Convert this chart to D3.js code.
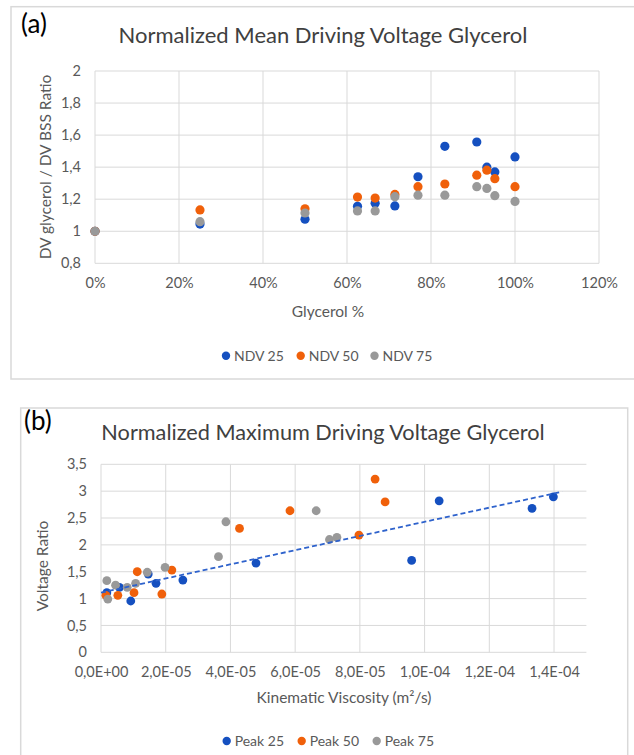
<!DOCTYPE html>
<html><head><meta charset="utf-8">
<script src="https://cdn.jsdelivr.net/npm/d3@7"></script>
<style>body{margin:0;background:#fff;} svg{display:block;font-family:Lato,"Open Sans",sans-serif;}</style>
</head><body>
<svg id="c" width="634" height="755"></svg>
<script>
// ---------- Panel (a) data ----------
const glycerolPct = [0, 0.25, 0.50, 0.625, 0.667, 0.714, 0.769, 0.833, 0.909, 0.933, 0.952, 1.00];
const ndv25 = [1.00, 1.045, 1.075, 1.156, 1.175, 1.158, 1.340, 1.530, 1.557, 1.400, 1.370, 1.464];
const ndv50 = [1.00, 1.133, 1.140, 1.213, 1.207, 1.230, 1.278, 1.295, 1.350, 1.381, 1.328, 1.278];
const ndv75 = [1.00, 1.060, 1.114, 1.127, 1.127, 1.216, 1.225, 1.225, 1.278, 1.267, 1.222, 1.186];
const seriesA = ["NDV 25", "NDV 50", "NDV 75"];
const xTicksA = [0, 0.2, 0.4, 0.6, 0.8, 1.0, 1.2];
const xTickLabelsA = ["0%", "20%", "40%", "60%", "80%", "100%", "120%"];
const yTicksA = [0.8, 1.0, 1.2, 1.4, 1.6, 1.8, 2.0];
const yTickLabelsA = ["0,8", "1", "1,2", "1,4", "1,6", "1,8", "2"];

// ---------- Panel (b) data ----------
const peak25X = [1.8e-6, 5.7e-6, 9.2e-6, 1.46e-5, 1.70e-5, 2.53e-5, 4.79e-5, 9.60e-5, 1.045e-4, 1.332e-4, 1.398e-4];
const peak25Y = [1.11, 1.21, 0.955, 1.457, 1.284, 1.345, 1.662, 1.71, 2.82, 2.68, 2.895];
const peak50X = [1.5e-6, 5.2e-6, 1.02e-5, 1.12e-5, 1.88e-5, 2.19e-5, 4.28e-5, 5.84e-5, 7.97e-5, 8.47e-5, 8.78e-5];
const peak50Y = [1.06, 1.06, 1.11, 1.50, 1.085, 1.53, 2.307, 2.635, 2.183, 3.225, 2.80];
const peak75X = [1.8e-6, 2.1e-6, 4.5e-6, 8.1e-6, 1.07e-5, 1.43e-5, 1.98e-5, 3.63e-5, 3.86e-5, 6.65e-5, 7.06e-5, 7.29e-5];
const peak75Y = [1.333, 0.99, 1.25, 1.21, 1.284, 1.49, 1.58, 1.78, 2.43, 2.635, 2.10, 2.14];
const seriesB = ["Peak 25", "Peak 50", "Peak 75"];
const trendX = [0, 1.425e-4];
const trendY = [1.11, 2.99];
const xTicksB = [0, 2e-5, 4e-5, 6e-5, 8e-5, 1e-4, 1.2e-4, 1.4e-4];
const xTickLabelsB = ["0,0E+00", "2,0E-05", "4,0E-05", "6,0E-05", "8,0E-05", "1,0E-04", "1,2E-04", "1,4E-04"];
const yTicksB = [0, 0.5, 1, 1.5, 2, 2.5, 3, 3.5];
const yTickLabelsB = ["0", "0,5", "1", "1,5", "2", "2,5", "3", "3,5"];

const colors = ["#1550c0", "#f0600a", "#999999"];
const gridC = "#d9d9d9", tickC = "#595959", titleC = "#404040";

const svg = d3.select("#c");

function panel(o) {
  const g = svg.append("g");
  g.append("rect").attr("x", o.box[0]).attr("y", o.box[1]).attr("width", o.box[2]).attr("height", o.box[3])
    .attr("fill", "none").attr("stroke", gridC).attr("stroke-width", 1.5);
  const [x0, x1] = o.x.range(), [y0, y1] = o.y.range();
  g.append("g").selectAll("line").data(o.yTicks).join("line")
    .attr("x1", x0).attr("x2", x1).attr("y1", d => o.y(d)).attr("y2", d => o.y(d))
    .attr("stroke", gridC).attr("stroke-width", 1);
  g.append("g").selectAll("line").data(o.xTicks).join("line")
    .attr("y1", y0).attr("y2", y1).attr("x1", d => o.x(d)).attr("x2", d => o.x(d))
    .attr("stroke", gridC).attr("stroke-width", 1);
  const yAx = d3.axisLeft(o.y).tickValues(o.yTicks).tickFormat((d, i) => o.yLabels[i]).tickSize(0).tickPadding(o.yPad);
  const ya = g.append("g").attr("transform", `translate(${x0},0)`).call(yAx);
  ya.select(".domain").remove();
  ya.selectAll("text").attr("fill", tickC).style("font-size", "14.5px").style("font-family", "Lato");
  const xAx = d3.axisBottom(o.x).tickValues(o.xTicks).tickFormat((d, i) => o.xLabels[i]).tickSize(0).tickPadding(o.xPad);
  const xa = g.append("g").attr("transform", `translate(0,${y0})`).call(xAx);
  xa.select(".domain").remove();
  xa.selectAll("text").attr("fill", tickC).style("font-size", "14.5px").style("font-family", "Lato");
  g.append("text").attr("x", o.tag[0]).attr("y", o.tag[1]).text(o.tagText)
    .attr("fill", "#000").style("font-size", "26px");
  g.append("text").attr("x", o.title[0]).attr("y", o.title[1]).attr("text-anchor", "middle")
    .text(o.titleText).attr("fill", titleC).style("font-size", o.titleSize);
  g.append("text").attr("x", o.xTitle[0]).attr("y", o.xTitle[1]).attr("text-anchor", "middle")
    .text(o.xTitleText).attr("fill", tickC).style("font-size", "15.5px");
  g.append("text").attr("transform", `translate(${o.yTitle[0]},${o.yTitle[1]}) rotate(-90)`)
    .attr("text-anchor", "middle").attr("dy", "0.35em")
    .text(o.yTitleText).attr("fill", tickC).style("font-size", "15.5px");
  const lg = g.append("g");
  o.legend.forEach((name, i) => {
    lg.append("circle").attr("cx", o.legX[i]).attr("cy", o.legY).attr("r", 4.2).attr("fill", colors[i]);
    lg.append("text").attr("x", o.legX[i] + 8).attr("y", o.legY).attr("dy", "0.35em")
      .text(name).attr("fill", tickC).style("font-size", "14px");
  });
  return g;
}

// ---------- Panel (a) ----------
const xA = d3.scaleLinear().domain([0, 1.2]).range([95, 599]);
const yA = d3.scaleLinear().domain([0.8, 2]).range([263.3, 71]);
const gA = panel({
  box: [11, 6.7, 640, 372.3], x: xA, y: yA, xTicks: xTicksA, yTicks: yTicksA,
  xLabels: xTickLabelsA, yLabels: yTickLabelsA, yPad: 14, xPad: 14,
  tag: [21, 33], tagText: "(a)", title: [323, 43], titleText: "Normalized Mean Driving Voltage Glycerol", titleSize: "22px",
  xTitle: [328, 317], xTitleText: "Glycerol %", yTitle: [46, 167], yTitleText: "DV glycerol / DV BSS Ratio",
  legend: seriesA, legX: [226, 300.7, 374.5], legY: 355.7
});
[ndv25, ndv50, ndv75].forEach((vals, si) => {
  gA.append("g").selectAll("circle").data(vals).join("circle")
    .attr("cx", (d, i) => xA(glycerolPct[i])).attr("cy", d => yA(d)).attr("r", 4.6).attr("fill", colors[si]);
});

// ---------- Panel (b) ----------
const xB = d3.scaleLinear().domain([0, 1.5e-4]).range([101, 586.4]);
const yB = d3.scaleLinear().domain([0, 3.5]).range([652.3, 464.3]);
const gB = panel({
  box: [20.7, 408, 607, 400], x: xB, y: yB, xTicks: xTicksB, yTicks: yTicksB,
  xLabels: xTickLabelsB, yLabels: yTickLabelsB, yPad: 14, xPad: 14,
  tag: [24, 430], tagText: "(b)", title: [323, 440], titleText: "Normalized Maximum Driving Voltage Glycerol", titleSize: "21.7px",
  xTitle: [344, 703], xTitleText: "Kinematic Viscosity (m²/s)", yTitle: [43, 566], yTitleText: "Voltage Ratio",
  legend: seriesB, legX: [226.7, 301.7, 376.7], legY: 741
});
[[peak25X, peak25Y], [peak50X, peak50Y], [peak75X, peak75Y]].forEach(([xs, ys], si) => {
  gB.append("g").selectAll("circle").data(ys).join("circle")
    .attr("cx", (d, i) => xB(xs[i])).attr("cy", d => yB(d)).attr("r", 4.4).attr("fill", colors[si]);
});
gB.append("path").datum(trendX.map((x, i) => [x, trendY[i]]))
  .attr("d", d3.line().x(d => xB(d[0])).y(d => yB(d[1])))
  .attr("fill", "none").attr("stroke", "#2e62cc").attr("stroke-width", 1.8).attr("stroke-dasharray", "5,3");
</script>
</body></html>
